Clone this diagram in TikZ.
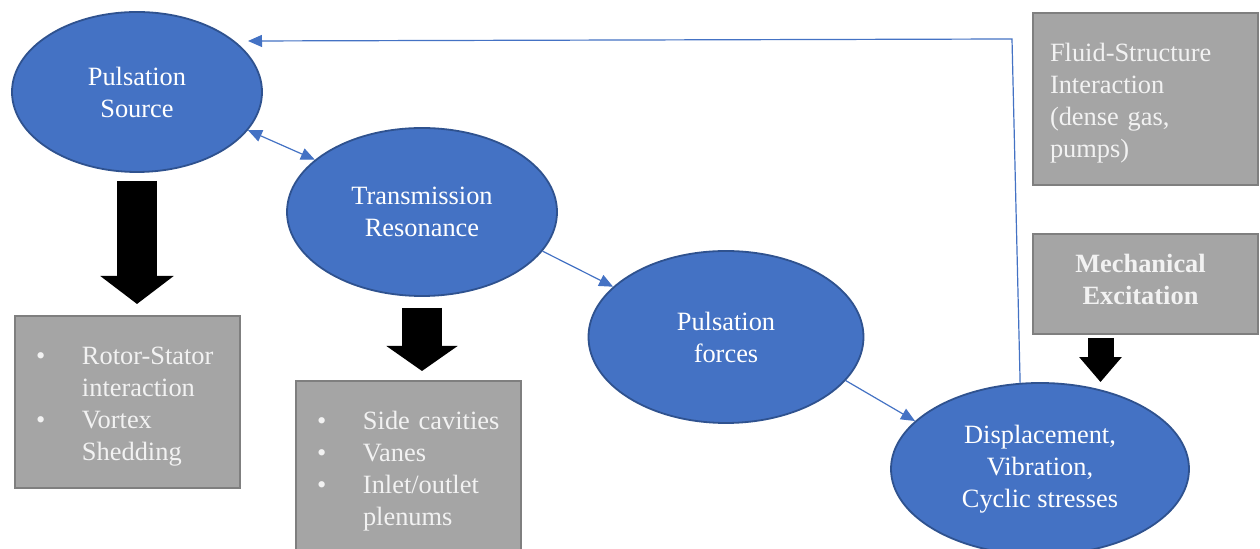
\documentclass[tikz,border=0pt]{standalone}
\usepackage{fontspec}
\setmainfont{Liberation Serif}
\usetikzlibrary{arrows.meta, shapes.geometric, calc}
\definecolor{blob}{RGB}{68,114,196}
\definecolor{blobline}{RGB}{47,82,143}
\definecolor{boxgray}{RGB}{165,165,165}
\definecolor{boxline}{RGB}{127,127,127}
\definecolor{boxtext}{RGB}{242,242,242}

\begin{document}
\begin{tikzpicture}[
    x=0.5pt, y=-0.5pt,
    stage/.style    = {ellipse, draw=blobline, line width=0.9pt, fill=blob, text=white, align=center, inner sep=0pt,
                       font=\fontsize{13.2}{16}\selectfont},
    cause/.style    = {rectangle, draw=boxline, line width=1pt, fill=boxgray, minimum width=112.5pt},
    causetxt/.style = {text=boxtext, align=left, inner sep=0pt, font=\fontsize{13.2}{16}\selectfont},
    link/.style     = {draw=blob, line width=0.6pt, -{Triangle[length=7pt, width=6pt]}},
    twolink/.style  = {draw=blob, line width=0.6pt, {Triangle[length=7pt, width=6pt]}-{Triangle[length=7pt, width=6pt]}},
    blockarr/.style n args = {3}{draw=black, line width=#1, -{Triangle[width=#2, length=#3]}},
  ]
    \useasboundingbox[fill=white] (0,0) rectangle (1260,549);

    % --- ellipses ---
    \node[stage, minimum width=125pt, minimum height=80pt] (src) at (137,92) {Pulsation\\Source};
    \node[stage, minimum width=135pt, minimum height=84pt] (trans) at (422,212) {Transmission\\Resonance};
    \node[stage, minimum width=137.5pt, minimum height=86pt] (forces) at (726,337) {Pulsation\\forces};
    \node[stage, minimum width=149pt, minimum height=86pt] (disp) at (1040,469) {Displacement,\\Vibration,\\Cyclic stresses};

    % --- grey boxes ---
    \node[cause, minimum height=86pt] (srcbox) at (127.5,402) {};
    \node[causetxt, text width=91.5pt, yshift=-2pt] (srcboxtxt) at (srcbox)
      {\begin{tabular}{@{}p{23pt}@{}l@{}}
        \textbullet & Rotor-Stator\\
                    & interaction\\
        \textbullet & Vortex\\
                    & Shedding
       \end{tabular}};
    \node[cause, minimum height=86.5pt] (transbox) at (408,467.5) {};
    \node[causetxt, text width=91pt, yshift=-1.75pt] (transboxtxt) at (transbox)
      {\begin{tabular}{@{}p{23pt}@{}l@{}}
        \textbullet & Side cavities\\
        \textbullet & Vanes\\
        \textbullet & Inlet/outlet\\
                    & plenums
       \end{tabular}};
    \node[cause, minimum height=86pt] (fsi) at (1145.5,99) {};
    \node[causetxt, text width=95.5pt, yshift=-2pt] (fsitxt) at (fsi)
      {Fluid-Structure\\Interaction\\(dense gas,\\pumps)};
    \node[cause, minimum height=50pt] (mech) at (1145.5,284) {};
    \node[causetxt, align=center, font=\fontsize{13.2}{16}\selectfont\bfseries, xshift=-2.5pt, yshift=2.5pt]
      (mechtxt) at (mech) {Mechanical\\Excitation};

    % --- block arrows ---
    \draw[blockarr={20pt}{36pt}{14pt}, shorten <=4pt, shorten >=5.5pt]
      (src.south) -- (src.south |- srcbox.north);
    \draw[blockarr={20pt}{35pt}{12.5pt}, shorten <=5.5pt, shorten >=4.5pt]
      (trans.south) -- (trans.south |- transbox.north);
    \draw[blockarr={13pt}{20.5pt}{12.5pt}, shorten <=1.5pt]
      ([xshift=-22.5pt]mech.south) -- ([xshift=-22.5pt]mech.south |- disp.north);

    % --- blue links ---
    \draw[twolink] (src.-19) -- (trans.154);
    \draw[link] (trans.-18) -- (forces.156);
    \draw[link] (forces.-20) -- (disp.159);

    % feedback to the source
    \coordinate (fbend) at (1012,39);
    \coordinate (fbtip) at (248,41);
    \draw[link] (disp.103) -- (fbend) -- (fbtip);
\end{tikzpicture}
\end{document}
